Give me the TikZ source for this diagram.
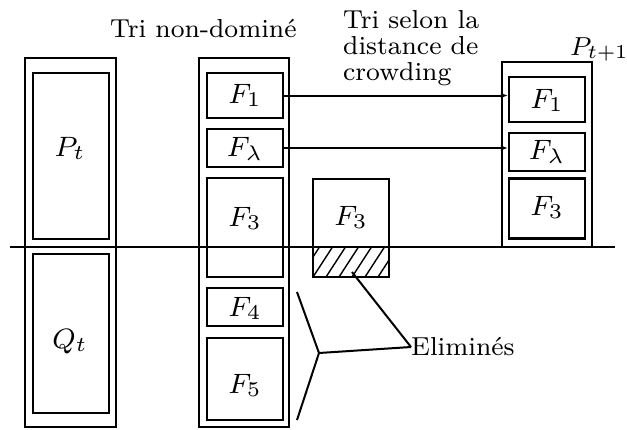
\documentclass[tikz,border=0pt]{standalone}
\usetikzlibrary{arrows.meta}
\newcommand{\mysc}[1]{\scalebox{3.25}{\fontsize{8}{8}\selectfont #1}}
\newcommand{\mymath}[1]{\scalebox{3.5}{\fontsize{8}{8}\selectfont $#1$}}
\begin{document}
\begin{tikzpicture}[x=1pt,y=-1pt,
  box/.style={draw, line width=2.5pt, rectangle, inner sep=0pt},
  lbl/.style={inner sep=0pt, anchor=base},
  conn/.style={line width=2pt},
  arr/.style={conn, -{Latex[length=7pt,width=6pt]}}]
\useasboundingbox (0,0) rectangle (627,429);
% left column
\node[box, minimum width=91, minimum height=369] (lout) at (70.5,242.5) {};
\node[box, minimum width=76, minimum height=166] (pt) at (71,156) {};
\node[lbl] (ptl) at (70,156) {\mymath{P_t}};
\node[box, minimum width=76, minimum height=159] (qt) at (71,333.5) {};
\node[lbl] (qtl) at (70,348) {\mymath{Q_t}};
% middle column
\node[box, minimum width=90, minimum height=369] (mout) at (244,242.5) {};
\node[box, minimum width=76, minimum height=45] (f1) at (245,95.5) {};
\node[lbl] (f1l) at (245,103) {\mymath{F_1}};
\node[box, minimum width=76, minimum height=38] (fl) at (245,148) {};
\node[lbl] (fll) at (245,156) {\mymath{F_\lambda}};
\node[box, minimum width=76, minimum height=99] (f3) at (245,227.5) {};
\node[lbl] (f3l) at (245,226) {\mymath{F_3}};
\node[box, minimum width=76, minimum height=38] (f4) at (245,307) {};
\node[lbl] (f4l) at (245,316) {\mymath{F_4}};
\node[box, minimum width=76, minimum height=82] (f5) at (245,379) {};
\node[lbl] (f5l) at (245,393) {\mymath{F_5}};
% split F3
\begin{scope}
\clip (313,247) rectangle (389,277);
\foreach \i in {-3,...,7} \draw[line width=1.4pt] (313+\i*13,277) -- ++(19.5,-30);
\end{scope}
\node[box, minimum width=76, minimum height=98] (sf3) at (351,228) {};
\node[lbl] (sf3l) at (351,225) {\mymath{F_3}};
% right column
\node[box, minimum width=90, minimum height=185] (rout) at (547,154.5) {};
\node[box, minimum width=76, minimum height=45] (rf1) at (547,99.5) {};
\node[lbl] (rf1l) at (547,108) {\mymath{F_1}};
\node[box, minimum width=76, minimum height=38] (rfl) at (547,152) {};
\node[lbl] (rfll) at (547,159) {\mymath{F_\lambda}};
\node[box, minimum width=76, minimum height=60] (rf3) at (547,208.5) {};
\node[lbl] (rf3l) at (547,215) {\mymath{F_3}};
\node[lbl, anchor=base west] (ptp) at (570,55) {\mysc{$P_{t+1}$}};
% horizontal line
\coordinate (hl) at (10,247);
\coordinate (hr) at (615,247);
\draw[conn] (hl) -- (hr);
% arrows
\draw[arr] (f1.east) -- (f1.east -| rf1.west);
\draw[arr] (fl.east) -- (fl.east -| rfl.west);
% texts
\node[lbl, anchor=base west] (tnd) at (110,37) {\mysc{Tri non-dominé}};
\node[lbl, anchor=base west] (tsd1) at (343,28) {\mysc{Tri selon la}};
\node[lbl, anchor=base west] (tsd2) at (343,54) {\mysc{distance de}};
\node[lbl, anchor=base west] (tsd3) at (343,80) {\mysc{crowding}};
\node[lbl, anchor=west] (elim) at (411,347) {\mysc{Eliminés}};
% elimination pointers
\coordinate (h1) at (352,272);
\coordinate (bk) at (319,353);
\coordinate (bt) at (297,292);
\coordinate (bb) at (297,420);
\draw[conn] (h1) -- (elim.west);
\draw[conn] (elim.west) -- (bk);
\draw[conn] (bt) -- (bk) -- (bb);
\end{tikzpicture}
\end{document}
